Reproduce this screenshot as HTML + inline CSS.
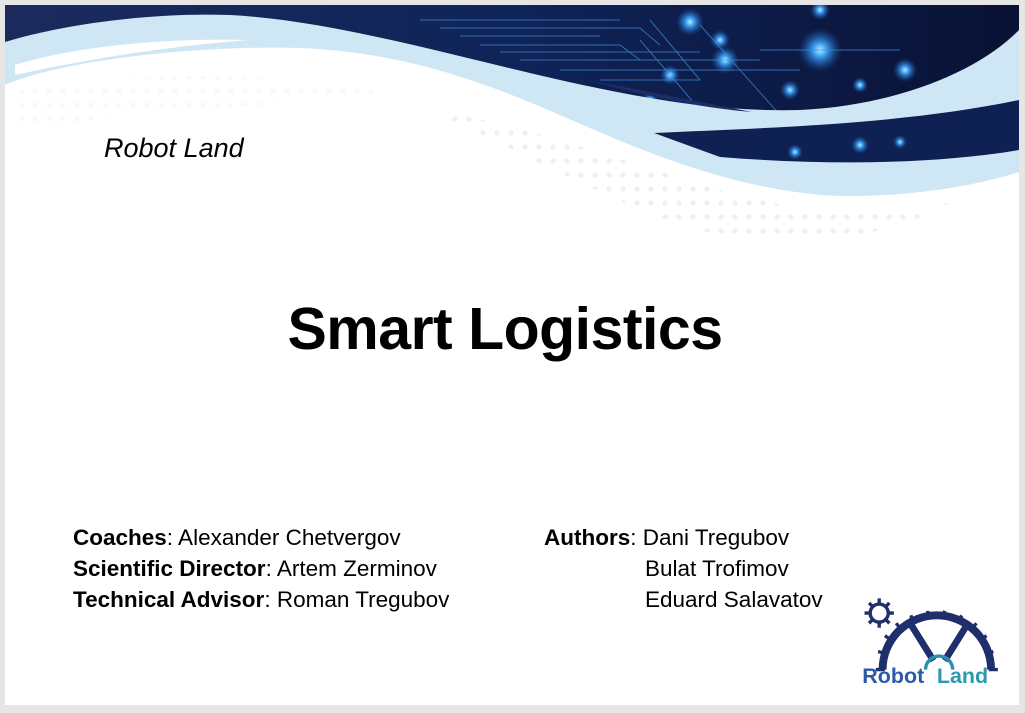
<!DOCTYPE html>
<html><head><meta charset="utf-8"><style>
body{margin:0;width:1025px;height:713px;background:#e6e6e6;overflow:hidden;font-family:"Liberation Sans",sans-serif;}
.slide{position:absolute;left:5px;top:5px;width:1014px;height:700px;background:#fff;overflow:hidden;}
.t{position:absolute;color:#000;white-space:nowrap;}
</style></head><body>
<div class="slide">
<svg width="1014" height="700" viewBox="5 5 1014 700" style="position:absolute;left:0;top:0">
<defs>
<linearGradient id="dk" x1="0" x2="1" y1="0" y2="0"><stop offset="0" stop-color="#1b2a5c"/><stop offset="0.5" stop-color="#0f2458"/><stop offset="1" stop-color="#0a1235"/></linearGradient>
<radialGradient id="gl"><stop offset="0" stop-color="#bfe8ff"/><stop offset="0.3" stop-color="#3aa0f0"/><stop offset="1" stop-color="#1a4ca0" stop-opacity="0"/></radialGradient>
<pattern id="dots" width="14" height="14" patternUnits="userSpaceOnUse"><circle cx="7" cy="7" r="2.6" fill="#ececec"/></pattern>
</defs>
<rect x="5" y="5" width="1014" height="200" fill="url(#dk)"/>
<g fill="url(#gl)">
<circle cx="690" cy="22" r="14"/><circle cx="720" cy="40" r="10"/><circle cx="820" cy="50" r="22"/><circle cx="905" cy="70" r="12"/><circle cx="725" cy="60" r="14"/><circle cx="670" cy="75" r="10"/><circle cx="790" cy="90" r="10"/><circle cx="860" cy="85" r="8"/><circle cx="820" cy="10" r="10"/><circle cx="650" cy="100" r="8"/>
</g>
<g stroke="#3f8fd8" stroke-width="1" fill="none" opacity="0.7">
<path d="M420,20 H620 M440,28 H640 L660,45 M460,36 H600 M480,45 H620 L640,60 M500,52 H700 M520,60 H760 M560,70 H800 M600,80 H700 M650,20 L700,80 M700,25 L820,160 M760,50 H900 M640,40 L700,110"/>
</g>
<path d="M5,42 C60,25 150,12 230,15 C330,20 450,55 560,80 C650,100 720,112 800,110 C900,105 980,70 1019,30 V205 H5 Z" fill="#cfe6f5"/>
<path d="M588,80 C650,92 710,104 752,112 C700,108 640,95 588,80 Z" fill="#1a2d66"/>
<path d="M654,133 C760,128 900,125 1019,100 V150 C930,165 820,165 720,157 Z" fill="#0f2052"/>
<g fill="url(#gl)"><circle cx="860" cy="145" r="9"/><circle cx="900" cy="142" r="7"/><circle cx="795" cy="152" r="8"/></g>
<path d="M5,85 C60,60 200,45 300,48 C400,52 480,80 560,115 C640,150 720,185 820,195 C900,200 980,185 1019,172 V705 H5 Z" fill="#fff"/>
<path d="M15,65 C80,45 170,38 250,40 C180,45 90,58 15,75 Z" fill="#fff"/>
<path d="M430,110 C520,150 600,200 700,230 C800,260 900,230 960,200 C900,215 820,215 760,200 C650,175 560,130 430,110 Z" fill="url(#dots)" opacity="0.9"/>
<path d="M20,90 C150,70 300,70 420,100 C300,100 150,110 20,130 Z" fill="url(#dots)" opacity="0.35"/>
<!-- logo -->
<g transform="translate(860,595) scale(1.13)">
<g fill="none" stroke="#1f2f6b" stroke-width="3">
<circle cx="17" cy="16" r="8"/>
</g>
<g stroke="#1f2f6b" stroke-width="3">
<path d="M17,3 V7 M17,25 V29 M4,16 H8 M26,16 H30 M8,7 L11,10 M23,22 L26,25 M8,25 L11,22 M23,10 L26,7"/>
</g>
<path d="M20,66 A48,48 0 0 1 116,66" fill="none" stroke="#1f2f6b" stroke-width="7"/>
<g stroke="#1f2f6b" stroke-width="3">
<path d="M14,66 H22 M16,50 L23,52 M22,36 L28,40 M32,25 L36,30 M45,18 L47,24 M60,14 V20 M75,14 L73,20 M90,18 L87,24 M103,25 L99,30 M112,36 L106,40 M118,50 L112,52 M122,66 H114"/>
<path d="M45,26 L65,58 M95,26 L75,58" stroke-width="6"/>
</g>
<path d="M58,66 A12,12 0 0 1 82,66" fill="none" stroke="#2a8fb0" stroke-width="3"/>
<text x="2" y="78" font-family="Liberation Sans,sans-serif" font-weight="bold" font-size="19" fill="#2b5aa8">Robot</text>
<text x="68" y="78" font-family="Liberation Sans,sans-serif" font-weight="bold" font-size="19" fill="#2a9ab0">Land</text>
</g>
</svg>
<div class="t" style="left:99px;top:128px;font-size:27px;font-style:italic;">Robot Land</div>
<div class="t" style="left:0;width:1000px;text-align:center;top:290px;font-size:59px;font-weight:bold;letter-spacing:-0.5px;">Smart Logistics</div>
<div class="t" style="left:68px;top:517px;font-size:22.5px;line-height:31px;">
<b>Coaches</b>: Alexander Chetvergov<br><b>Scientific Director</b>: Artem Zerminov<br><b>Technical Advisor</b>: Roman Tregubov</div>
<div class="t" style="left:539px;top:517px;font-size:22.5px;line-height:31px;"><b>Authors</b>: Dani Tregubov</div>
<div class="t" style="left:640px;top:548px;font-size:22.5px;line-height:31px;">Bulat Trofimov<br>Eduard Salavatov</div>
</div>
</body></html>
